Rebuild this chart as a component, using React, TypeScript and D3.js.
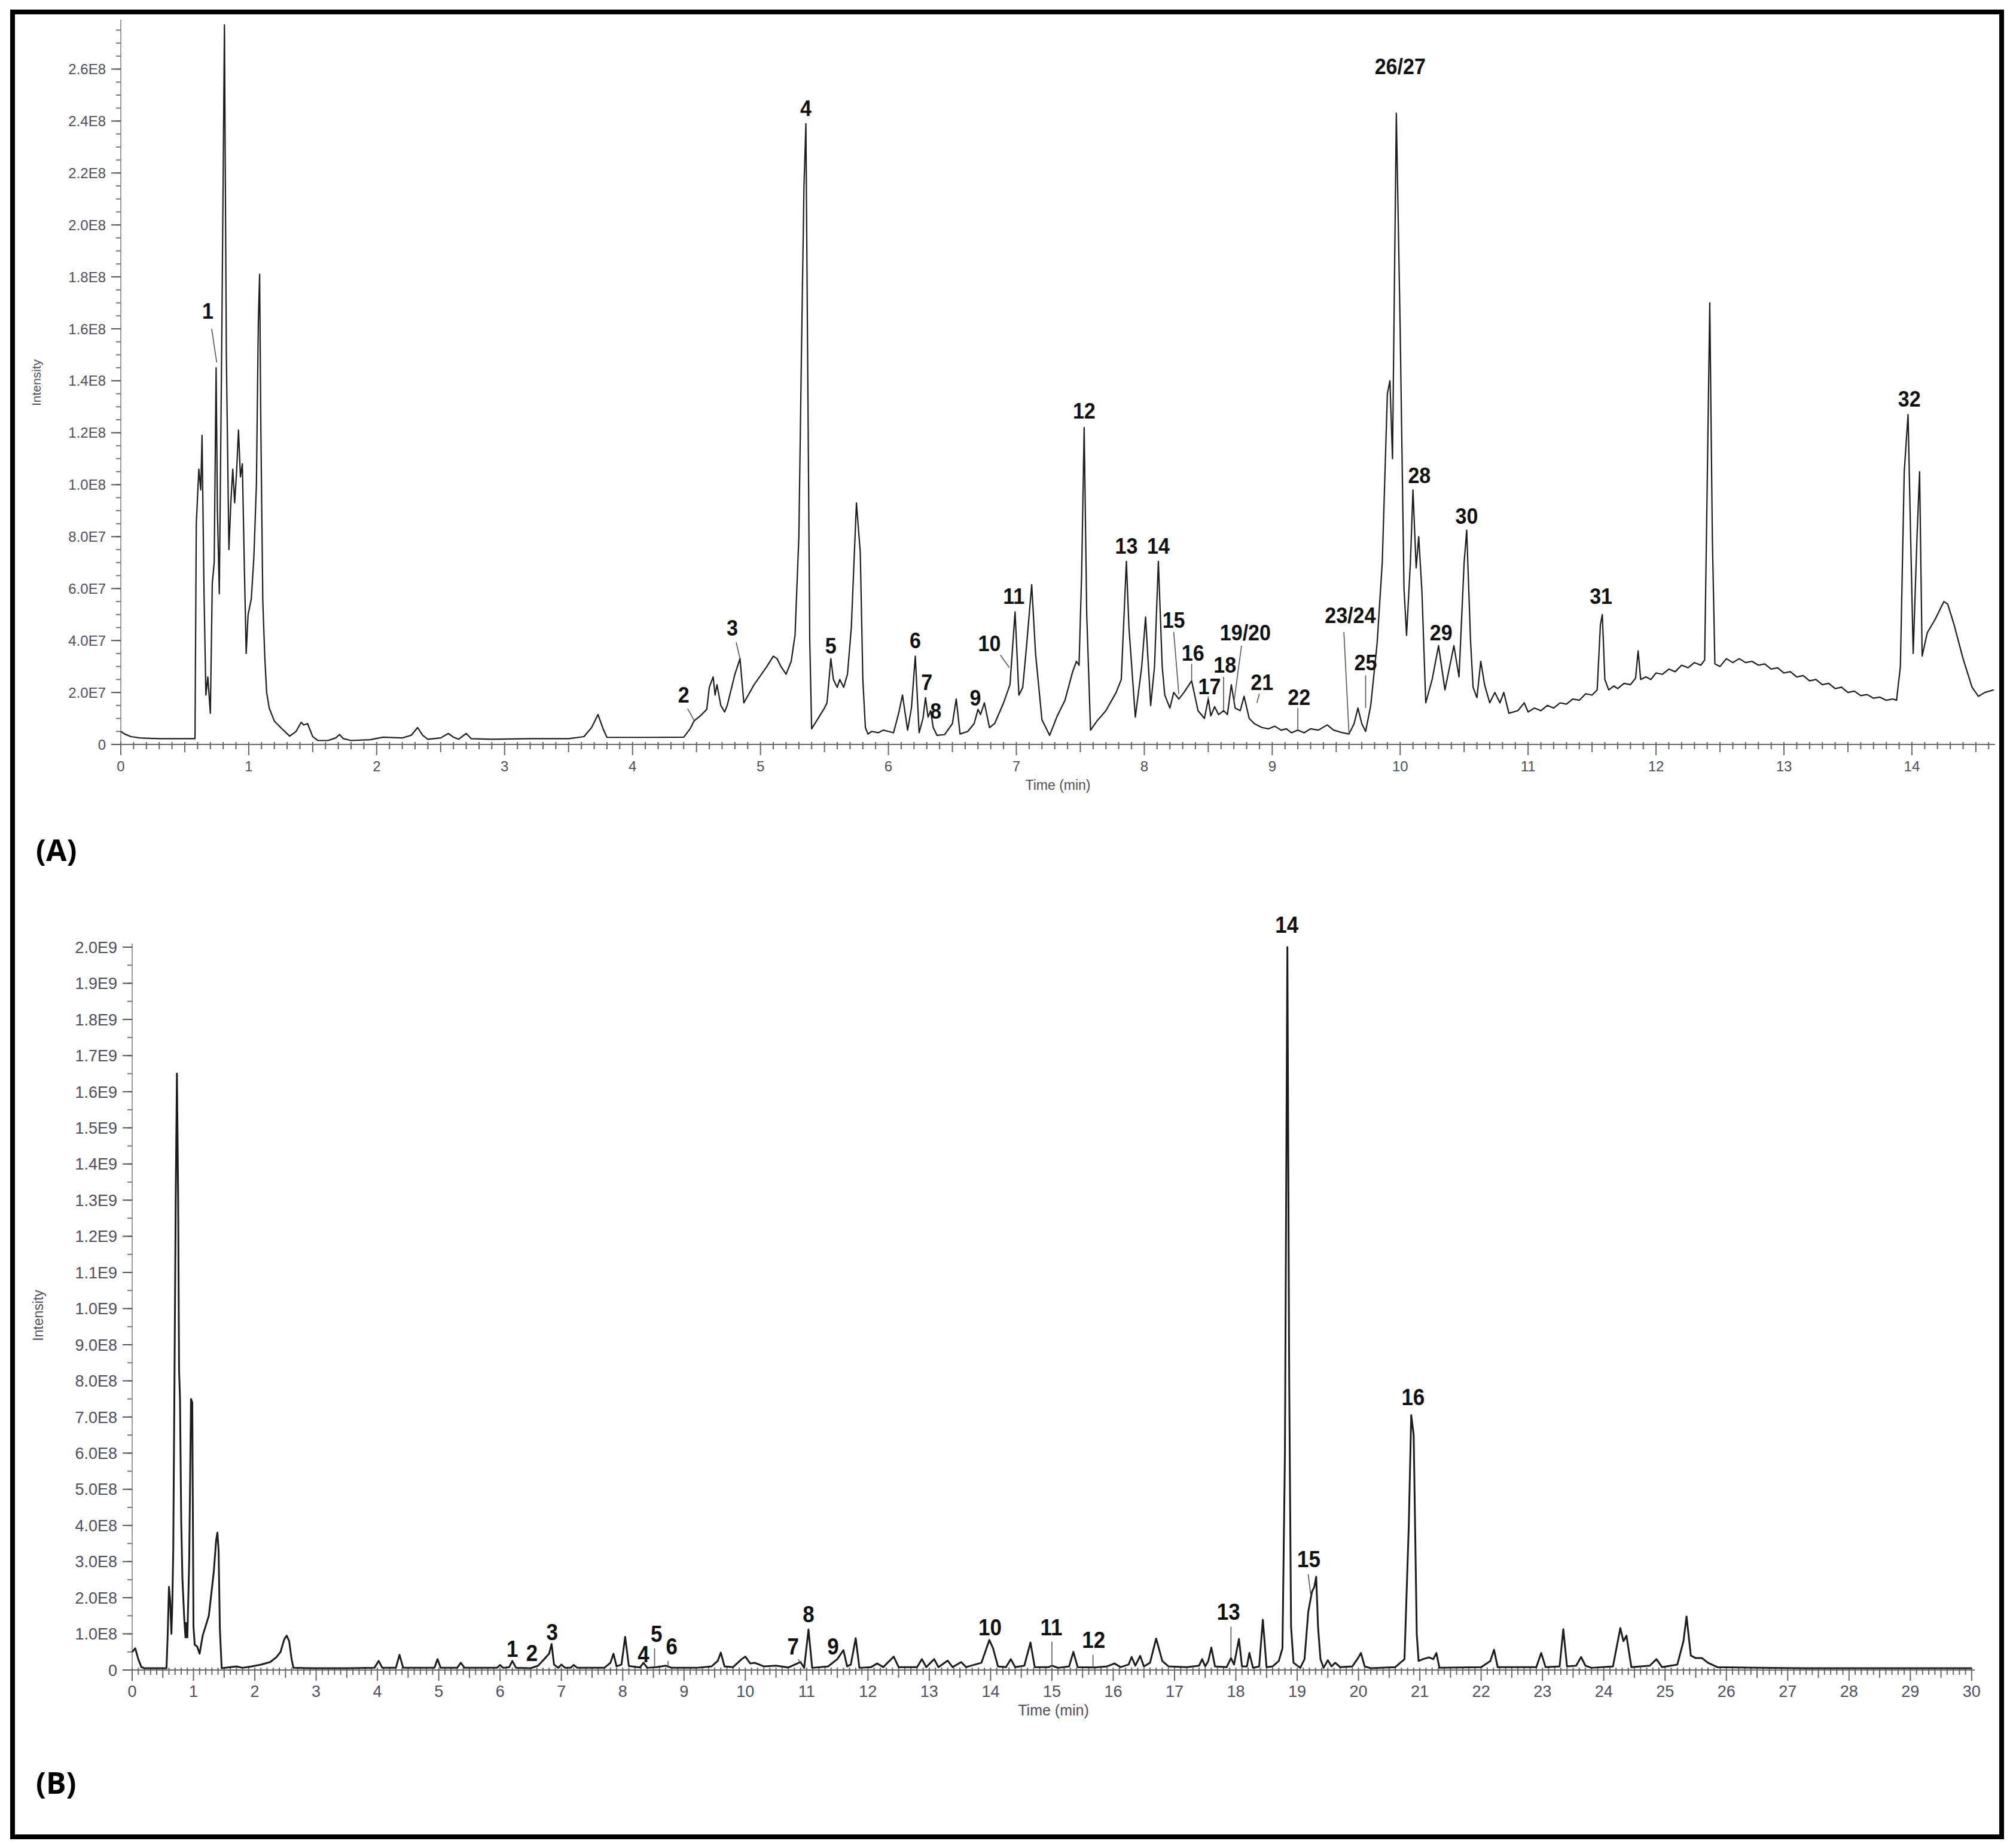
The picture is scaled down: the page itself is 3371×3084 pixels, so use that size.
import * as d3 from "d3";

// ---------- Panel A (time in min, intensity in units of 1E7) ----------
const chromA: [number, number][] = [
  [0, 0.5], [0.03, 0.4], [0.08, 0.3], [0.15, 0.25], [0.3, 0.22], [0.45, 0.22], [0.58, 0.22],
  [0.59, 8.5], [0.61, 10.6], [0.625, 9.8], [0.635, 11.9], [0.65, 6.0], [0.665, 1.9], [0.68, 2.6],
  [0.7, 1.2], [0.715, 6.2], [0.73, 7.0], [0.745, 14.5], [0.755, 9.0], [0.77, 5.8], [0.79, 16],
  [0.81, 27.7], [0.825, 15], [0.845, 7.5], [0.86, 9.3], [0.875, 10.6], [0.89, 9.3], [0.905, 10.5],
  [0.92, 12.1], [0.935, 10.3], [0.95, 10.8], [0.965, 7.0], [0.98, 3.5], [0.995, 5.0], [1.02, 5.6],
  [1.04, 7.2], [1.06, 10.0], [1.075, 16.3], [1.085, 18.1], [1.095, 12], [1.11, 5.5], [1.125, 3.4],
  [1.14, 2.0], [1.16, 1.4], [1.2, 0.9], [1.26, 0.6], [1.32, 0.32], [1.37, 0.5], [1.41, 0.85],
  [1.43, 0.75], [1.46, 0.8], [1.5, 0.3], [1.54, 0.15], [1.62, 0.15], [1.68, 0.25], [1.71, 0.38],
  [1.74, 0.22], [1.8, 0.15], [1.95, 0.18], [2.05, 0.28], [2.2, 0.25], [2.27, 0.35], [2.32, 0.65],
  [2.36, 0.35], [2.4, 0.2], [2.5, 0.25], [2.56, 0.42], [2.6, 0.28], [2.64, 0.2], [2.7, 0.42],
  [2.74, 0.22], [2.9, 0.2], [3.2, 0.22], [3.5, 0.22], [3.62, 0.3], [3.68, 0.65], [3.73, 1.15],
  [3.77, 0.6], [3.8, 0.27], [4.1, 0.27], [4.4, 0.28], [4.45, 0.6], [4.48, 0.9], [4.53, 1.1],
  [4.58, 1.35], [4.6, 2.2], [4.63, 2.6], [4.645, 1.9], [4.66, 2.3], [4.69, 1.5], [4.72, 1.25],
  [4.74, 1.5], [4.8, 2.7], [4.84, 3.3], [4.87, 1.6], [4.95, 2.3], [5.05, 3.0], [5.1, 3.4],
  [5.13, 3.3], [5.16, 3.0], [5.2, 2.7], [5.24, 3.2], [5.27, 4.2], [5.3, 8.0], [5.32, 15],
  [5.34, 21.5], [5.355, 23.9], [5.37, 14], [5.385, 4], [5.4, 0.6], [5.45, 1.0], [5.5, 1.4],
  [5.52, 1.6], [5.55, 3.3], [5.57, 2.5], [5.6, 2.2], [5.62, 2.5], [5.65, 2.2], [5.68, 2.7],
  [5.71, 4.5], [5.75, 9.3], [5.78, 7.4], [5.8, 2.5], [5.82, 0.65], [5.84, 0.4], [5.87, 0.5],
  [5.92, 0.45], [5.96, 0.55], [6.0, 0.5], [6.04, 0.45], [6.08, 1.2], [6.11, 1.9], [6.15, 0.55],
  [6.18, 1.4], [6.21, 3.4], [6.24, 0.45], [6.27, 1.0], [6.29, 1.8], [6.31, 1.05], [6.33, 1.3],
  [6.35, 0.65], [6.38, 0.35], [6.44, 0.38], [6.5, 0.8], [6.53, 1.75], [6.56, 0.4], [6.62, 0.5],
  [6.67, 0.8], [6.7, 1.35], [6.72, 1.15], [6.75, 1.6], [6.79, 0.65], [6.83, 0.8], [6.9, 1.6],
  [6.95, 2.3], [6.99, 5.1], [7.02, 1.9], [7.05, 2.2], [7.08, 3.8], [7.12, 6.15], [7.15, 3.5],
  [7.2, 0.95], [7.26, 0.35], [7.32, 1.1], [7.38, 1.7], [7.44, 2.8], [7.47, 3.2], [7.49, 3.05],
  [7.51, 6.5], [7.53, 12.2], [7.55, 5], [7.58, 0.55], [7.63, 0.9], [7.7, 1.3], [7.78, 2.0],
  [7.82, 2.5], [7.86, 7.05], [7.88, 4.5], [7.93, 1.05], [7.98, 3.0], [8.01, 4.9], [8.05, 1.5],
  [8.08, 3.0], [8.11, 7.05], [8.14, 3.0], [8.16, 1.9], [8.2, 1.4], [8.23, 2.0], [8.27, 1.75],
  [8.31, 2.0], [8.37, 2.45], [8.42, 1.3], [8.47, 1.0], [8.5, 1.75], [8.52, 1.1], [8.55, 1.45],
  [8.58, 1.15], [8.62, 1.3], [8.65, 1.15], [8.68, 2.3], [8.71, 1.4], [8.75, 1.3], [8.78, 1.85],
  [8.82, 1.0], [8.86, 0.8], [8.92, 0.65], [8.97, 0.6], [9.02, 0.7], [9.07, 0.55], [9.11, 0.6],
  [9.15, 0.45], [9.2, 0.55], [9.25, 0.45], [9.3, 0.6], [9.36, 0.55], [9.43, 0.75], [9.48, 0.55],
  [9.55, 0.45], [9.6, 0.4], [9.64, 0.8], [9.67, 1.4], [9.7, 0.8], [9.73, 0.5], [9.77, 1.5],
  [9.82, 3.9], [9.86, 7], [9.9, 13.5], [9.92, 14], [9.94, 11], [9.97, 24.3], [10.0, 16],
  [10.03, 6], [10.05, 4.2], [10.08, 7], [10.1, 9.8], [10.125, 6.8], [10.145, 8.0], [10.17, 5.9],
  [10.2, 1.6], [10.25, 2.5], [10.3, 3.8], [10.35, 2.1], [10.42, 3.8], [10.46, 2.6], [10.5, 7.0],
  [10.52, 8.25], [10.55, 4.0], [10.57, 2.2], [10.6, 1.8], [10.63, 3.2], [10.66, 2.3], [10.7, 1.6],
  [10.74, 2.0], [10.78, 1.6], [10.81, 2.0], [10.85, 1.2], [10.92, 1.3], [10.97, 1.6], [11.0, 1.25],
  [11.05, 1.4], [11.1, 1.3], [11.15, 1.5], [11.2, 1.4], [11.25, 1.6], [11.3, 1.55], [11.35, 1.75],
  [11.4, 1.7], [11.45, 1.95], [11.5, 1.9], [11.54, 2.1], [11.565, 4.6], [11.58, 5.0], [11.6, 2.5],
  [11.63, 2.1], [11.67, 2.25], [11.7, 2.15], [11.75, 2.35], [11.8, 2.3], [11.84, 2.55],
  [11.86, 3.6], [11.88, 2.5], [11.92, 2.6], [11.96, 2.5], [12.0, 2.75], [12.05, 2.7],
  [12.1, 2.9], [12.15, 2.8], [12.2, 3.05], [12.25, 2.95], [12.3, 3.15], [12.35, 3.05],
  [12.38, 3.25], [12.4, 10], [12.42, 17.0], [12.44, 8], [12.46, 3.1], [12.5, 3.0], [12.55, 3.3],
  [12.6, 3.15], [12.65, 3.3], [12.7, 3.15], [12.75, 3.2], [12.8, 3.05], [12.85, 3.1],
  [12.9, 2.9], [12.95, 2.95], [13.0, 2.75], [13.05, 2.8], [13.1, 2.6], [13.15, 2.65],
  [13.2, 2.45], [13.25, 2.5], [13.3, 2.3], [13.35, 2.35], [13.4, 2.15], [13.45, 2.2],
  [13.5, 2.0], [13.55, 2.05], [13.6, 1.88], [13.65, 1.92], [13.7, 1.78], [13.75, 1.82],
  [13.8, 1.7], [13.85, 1.75], [13.88, 1.7], [13.91, 3.0], [13.94, 10.5], [13.97, 12.7],
  [13.99, 8], [14.01, 3.5], [14.04, 8], [14.06, 10.5], [14.08, 3.4], [14.12, 4.3], [14.18, 4.8],
  [14.25, 5.5], [14.28, 5.4], [14.33, 4.6], [14.4, 3.3], [14.47, 2.2], [14.52, 1.85],
  [14.57, 2.0], [14.64, 2.1],
];

// peak label: text position (t, y = text baseline) and optional leader line
const peaksA: { id: string; t: number; y: number; lead?: [number, number, number, number] }[] = [
  { id: "1", t: 0.68, y: 16.4, lead: [0.71, 16.0, 0.75, 14.7] },
  { id: "2", t: 4.4, y: 1.6, lead: [4.43, 1.38, 4.48, 0.94] },
  { id: "3", t: 4.78, y: 4.2, lead: [4.81, 3.93, 4.84, 3.3] },
  { id: "4", t: 5.355, y: 24.2 },
  { id: "5", t: 5.55, y: 3.5 },
  { id: "6", t: 6.21, y: 3.7 },
  { id: "7", t: 6.3, y: 2.1 },
  { id: "8", t: 6.37, y: 1.0 },
  { id: "9", t: 6.68, y: 1.5 },
  { id: "10", t: 6.79, y: 3.6, lead: [6.875, 3.44, 6.945, 2.96] },
  { id: "11", t: 6.98, y: 5.42 },
  { id: "12", t: 7.53, y: 12.55 },
  { id: "13", t: 7.86, y: 7.35 },
  { id: "14", t: 8.11, y: 7.35 },
  { id: "15", t: 8.23, y: 4.5, lead: [8.23, 4.33, 8.27, 1.94] },
  { id: "16", t: 8.38, y: 3.23, lead: [8.37, 3.1, 8.37, 2.45] },
  { id: "17", t: 8.51, y: 1.94, lead: [8.5, 1.85, 8.5, 1.75] },
  { id: "18", t: 8.63, y: 2.76, lead: [8.62, 2.6, 8.62, 1.3] },
  { id: "19/20", t: 8.79, y: 4.0, lead: [8.76, 3.8, 8.7, 1.6] },
  { id: "21", t: 8.92, y: 2.1, lead: [8.9, 1.95, 8.88, 1.6] },
  { id: "22", t: 9.21, y: 1.52, lead: [9.2, 1.4, 9.2, 0.56] },
  { id: "23/24", t: 9.61, y: 4.68, lead: [9.56, 4.33, 9.6, 0.42] },
  { id: "25", t: 9.73, y: 2.86, lead: [9.73, 2.66, 9.73, 1.4] },
  { id: "26/27", t: 10.0, y: 25.8 },
  { id: "28", t: 10.15, y: 10.05 },
  { id: "29", t: 10.32, y: 4.0 },
  { id: "30", t: 10.52, y: 8.5 },
  { id: "31", t: 11.57, y: 5.4 },
  { id: "32", t: 13.98, y: 13.0 },
];

const yTickValsA = [0, 2, 4, 6, 8, 10, 12, 14, 16, 18, 20, 22, 24, 26];
const yTickLabelsA = ["0", "2.0E7", "4.0E7", "6.0E7", "8.0E7", "1.0E8", "1.2E8", "1.4E8",
  "1.6E8", "1.8E8", "2.0E8", "2.2E8", "2.4E8", "2.6E8"];
const xTickValsA = d3.range(0, 15);

// ---------- Panel B (time in min, intensity in units of 1E8) ----------
const chromB: [number, number][] = [
  [0, 0.5], [0.05, 0.6], [0.1, 0.3], [0.15, 0.08], [0.2, 0.05], [0.4, 0.05], [0.56, 0.05],
  [0.58, 1.0], [0.6, 2.3], [0.62, 1.9], [0.64, 1.0], [0.655, 1.85], [0.67, 3.3], [0.69, 8],
  [0.71, 13], [0.73, 16.5], [0.75, 13], [0.765, 8.3], [0.78, 7.5], [0.8, 4.1], [0.82, 2.5],
  [0.85, 1.4], [0.87, 0.9], [0.88, 1.3], [0.9, 0.9], [0.93, 3], [0.96, 7.5], [0.98, 7.4],
  [1.0, 1.2], [1.02, 0.7], [1.06, 0.65], [1.1, 0.45], [1.15, 0.95], [1.25, 1.5], [1.33, 2.7],
  [1.37, 3.6], [1.39, 3.8], [1.41, 3.3], [1.43, 1.15], [1.46, 0.05], [1.6, 0.08], [1.7, 0.1],
  [1.8, 0.06], [1.95, 0.1], [2.1, 0.15], [2.25, 0.22], [2.35, 0.35], [2.42, 0.5], [2.48, 0.85],
  [2.52, 0.95], [2.56, 0.8], [2.6, 0.3], [2.63, 0.06], [3.0, 0.05], [3.5, 0.05], [3.95, 0.06],
  [4.02, 0.25], [4.08, 0.06], [4.3, 0.06], [4.36, 0.42], [4.42, 0.06], [4.93, 0.06], [4.98, 0.3],
  [5.03, 0.06], [5.3, 0.06], [5.36, 0.2], [5.42, 0.06], [5.95, 0.06], [6.0, 0.14], [6.05, 0.06],
  [6.15, 0.08], [6.2, 0.25], [6.26, 0.06], [6.5, 0.05], [6.62, 0.12], [6.72, 0.3], [6.8, 0.45],
  [6.84, 0.72], [6.88, 0.15], [6.95, 0.06], [7.0, 0.15], [7.06, 0.06], [7.15, 0.06], [7.2, 0.14],
  [7.26, 0.06], [7.7, 0.06], [7.8, 0.2], [7.85, 0.45], [7.9, 0.1], [7.98, 0.15], [8.04, 0.92],
  [8.1, 0.11], [8.28, 0.07], [8.34, 0.2], [8.4, 0.06], [8.55, 0.08], [8.7, 0.12], [8.8, 0.06],
  [9.2, 0.06], [9.45, 0.1], [9.55, 0.25], [9.6, 0.48], [9.66, 0.1], [9.8, 0.08], [9.94, 0.3],
  [10.0, 0.37], [10.08, 0.18], [10.15, 0.2], [10.3, 0.1], [10.5, 0.12], [10.7, 0.07], [10.9, 0.22],
  [10.96, 0.06], [11.03, 1.12], [11.09, 0.06], [11.35, 0.1], [11.5, 0.3], [11.6, 0.55],
  [11.66, 0.1], [11.72, 0.15], [11.8, 0.88], [11.86, 0.06], [12.05, 0.08], [12.15, 0.18],
  [12.25, 0.08], [12.42, 0.37], [12.5, 0.08], [12.8, 0.08], [12.88, 0.3], [12.95, 0.08],
  [13.08, 0.3], [13.15, 0.08], [13.3, 0.26], [13.38, 0.08], [13.52, 0.22], [13.6, 0.08],
  [13.85, 0.2], [13.98, 0.83], [14.04, 0.6], [14.12, 0.1], [14.25, 0.08], [14.33, 0.3],
  [14.4, 0.08], [14.55, 0.12], [14.65, 0.76], [14.72, 0.08], [14.95, 0.08], [15.0, 0.12],
  [15.1, 0.06], [15.28, 0.1], [15.35, 0.5], [15.42, 0.08], [15.7, 0.07], [15.9, 0.1],
  [16.02, 0.18], [16.12, 0.08], [16.25, 0.15], [16.3, 0.36], [16.36, 0.12], [16.44, 0.39],
  [16.5, 0.1], [16.6, 0.2], [16.7, 0.87], [16.8, 0.25], [16.9, 0.1], [17.2, 0.08], [17.4, 0.12],
  [17.45, 0.3], [17.5, 0.1], [17.55, 0.25], [17.6, 0.62], [17.66, 0.1], [17.85, 0.08],
  [17.92, 0.33], [17.97, 0.15], [18.05, 0.86], [18.1, 0.1], [18.18, 0.1], [18.22, 0.47],
  [18.28, 0.06], [18.38, 0.1], [18.44, 1.39], [18.5, 0.08], [18.6, 0.1], [18.7, 0.25],
  [18.76, 0.6], [18.8, 6], [18.84, 20.0], [18.87, 8], [18.9, 1.2], [18.94, 0.2], [19.05, 0.06],
  [19.12, 0.3], [19.18, 1.6], [19.24, 2.16], [19.28, 2.3], [19.31, 2.58], [19.34, 1.2],
  [19.38, 0.3], [19.43, 0.06], [19.5, 0.27], [19.56, 0.1], [19.62, 0.2], [19.7, 0.08],
  [19.9, 0.1], [20.0, 0.35], [20.04, 0.47], [20.1, 0.1], [20.2, 0.05], [20.6, 0.08],
  [20.75, 0.3], [20.82, 4], [20.86, 7.05], [20.9, 6.5], [20.95, 1.0], [20.98, 0.25],
  [21.05, 0.3], [21.15, 0.35], [21.22, 0.3], [21.27, 0.47], [21.32, 0.06], [22.0, 0.08],
  [22.15, 0.25], [22.21, 0.56], [22.27, 0.08], [22.9, 0.08], [22.98, 0.47], [23.05, 0.08],
  [23.28, 0.1], [23.34, 1.13], [23.4, 0.1], [23.55, 0.12], [23.63, 0.36], [23.7, 0.12],
  [23.8, 0.06], [24.15, 0.1], [24.27, 1.16], [24.32, 0.8], [24.37, 0.95], [24.45, 0.08],
  [24.75, 0.12], [24.86, 0.3], [24.95, 0.08], [25.2, 0.15], [25.3, 0.8], [25.35, 1.48],
  [25.42, 0.4], [25.5, 0.33], [25.6, 0.33], [25.7, 0.2], [25.85, 0.08], [26.5, 0.06],
  [27.3, 0.05], [30.0, 0.05],
];

const peaksB: { id: string; t: number; y: number; lead?: [number, number, number, number] }[] = [
  { id: "1", t: 6.2, y: 0.36 },
  { id: "2", t: 6.52, y: 0.25 },
  { id: "3", t: 6.85, y: 0.83 },
  { id: "4", t: 8.34, y: 0.22 },
  { id: "5", t: 8.55, y: 0.78, lead: [8.52, 0.6, 8.52, 0.08] },
  { id: "6", t: 8.8, y: 0.43, lead: [8.74, 0.25, 8.74, 0.1] },
  { id: "7", t: 10.78, y: 0.43, lead: [10.86, 0.3, 10.9, 0.2] },
  { id: "8", t: 11.03, y: 1.32 },
  { id: "9", t: 11.43, y: 0.43 },
  { id: "10", t: 13.99, y: 0.96 },
  { id: "11", t: 14.99, y: 0.96, lead: [15.0, 0.78, 15.0, 0.1] },
  { id: "12", t: 15.68, y: 0.61, lead: [15.67, 0.42, 15.67, 0.07] },
  { id: "13", t: 17.88, y: 1.39, lead: [17.92, 1.2, 17.92, 0.33] },
  { id: "14", t: 18.83, y: 20.4 },
  { id: "15", t: 19.19, y: 2.84, lead: [19.18, 2.65, 19.22, 2.1] },
  { id: "16", t: 20.89, y: 7.33 },
];

const yTickValsB = d3.range(0, 21);
const yTickLabelsB = ["0", "1.0E8", "2.0E8", "3.0E8", "4.0E8", "5.0E8", "6.0E8", "7.0E8",
  "8.0E8", "9.0E8", "1.0E9", "1.1E9", "1.2E9", "1.3E9", "1.4E9", "1.5E9", "1.6E9", "1.7E9",
  "1.8E9", "1.9E9", "2.0E9"];
const xTickValsB = d3.range(0, 31);

const TICK_FONT = "'Liberation Sans', Arial, sans-serif";
const TICK_COLOR = "#4e4e5e";

type PanelProps = {
  data: [number, number][];
  peaks: { id: string; t: number; y: number; lead?: [number, number, number, number] }[];
  xMax: number;
  yMax: number;
  left: number;
  right: number;
  top: number;
  bottom: number;
  yTickVals: number[];
  yTickLabels: string[];
  xTickVals: number[];
  yMinorStep: number;
  tickSize: number;
  labelSize: number;
  peakSize: number;
  lineWidth: number;
  yLabelX: number;
  yLabelY: number;
  panelTag: string;
  tagY: number;
};

function Panel(p: PanelProps) {
  const x = d3.scaleLinear().domain([0, p.xMax]).range([p.left, p.right]);
  const y = d3.scaleLinear().domain([0, p.yMax]).range([p.bottom, p.top]);
  const line = d3
    .line<[number, number]>()
    .x((d) => x(d[0]))
    .y((d) => y(d[1]));

  const yMinor = d3.range(0, p.yMax, p.yMinorStep);
  const xMinor = d3.range(0, Math.floor(p.xMax * 10) + 1).map((i) => i / 10);

  return (
    <g>
      {/* y axis */}
      <line x1={p.left} x2={p.left} y1={p.top} y2={p.bottom} stroke="#9a9aa2" strokeWidth={2} />
      {yMinor.map((v) => (
        <line key={"ym" + v} x1={p.left - 8} x2={p.left} y1={y(v)} y2={y(v)} stroke="#777" strokeWidth={2} />
      ))}
      {p.yTickVals.map((v, i) => (
        <g key={"yt" + v}>
          <line x1={p.left - 16} x2={p.left} y1={y(v)} y2={y(v)} stroke="#555" strokeWidth={2} />
          <text
            x={p.left - 25}
            y={y(v)}
            dy="0.36em"
            textAnchor="end"
            fontFamily={TICK_FONT}
            fontSize={p.tickSize}
            fill={TICK_COLOR}
          >
            {p.yTickLabels[i]}
          </text>
        </g>
      ))}
      <text
        transform={`translate(${p.yLabelX},${p.yLabelY}) rotate(-90)`}
        textAnchor="middle"
        fontFamily={TICK_FONT}
        fontSize={p.labelSize - 2}
        fill={TICK_COLOR}
      >
        Intensity
      </text>

      {/* x axis */}
      <line x1={p.left} x2={p.right} y1={p.bottom} y2={p.bottom} stroke="#6a6a72" strokeWidth={2} />
      {xMinor.map((v) => {
        const k = Math.round(v * 10);
        const len = k % 10 === 0 ? 18 : k % 5 === 0 ? 13 : 8;
        return (
          <line key={"xm" + k} x1={x(v)} x2={x(v)} y1={p.bottom - 4} y2={p.bottom + len} stroke="#666" strokeWidth={2} />
        );
      })}
      {p.xTickVals.map((v) => (
        <text
          key={"xt" + v}
          x={x(v)}
          y={p.bottom + 45}
          textAnchor="middle"
          fontFamily={TICK_FONT}
          fontSize={p.tickSize}
          fill={TICK_COLOR}
        >
          {v}
        </text>
      ))}
      <text
        x={(p.left + p.right) / 2}
        y={p.bottom + 76}
        textAnchor="middle"
        fontFamily={TICK_FONT}
        fontSize={p.labelSize}
        fill={TICK_COLOR}
      >
        Time (min)
      </text>

      {/* chromatogram */}
      <path d={line(p.data) ?? ""} fill="none" stroke="#1c1c1c" strokeWidth={p.lineWidth} strokeLinejoin="round" />

      {/* peak leaders and labels */}
      {p.peaks.map((pk) =>
        pk.lead ? (
          <line
            key={"ld" + pk.id}
            x1={x(pk.lead[0])}
            y1={y(pk.lead[1])}
            x2={x(pk.lead[2])}
            y2={y(pk.lead[3])}
            stroke="#555"
            strokeWidth={1.6}
          />
        ) : null
      )}
      {p.peaks.map((pk) => (
        <g key={"pk" + pk.id} transform={`translate(${x(pk.t)},${y(pk.y)}) scale(0.92,1)`}>
          <text
            textAnchor="middle"
            fontFamily="'Liberation Sans', Arial, sans-serif"
            fontWeight="bold"
            fontSize={p.peakSize}
            fill="#111"
          >
            {pk.id}
          </text>
        </g>
      ))}

      <text
        x={60}
        y={p.tagY}
        fontFamily="'Open Sans', 'Liberation Sans', Arial, sans-serif"
        fontWeight="bold"
        fontSize={50}
        fill="#000"
      >
        {p.panelTag}
      </text>
    </g>
  );
}

export default function App() {
  return (
    <svg
      width={3371}
      height={3084}
      viewBox="0 0 3371 3084"
      style={{ position: "absolute", left: 0, top: 0, background: "#fff" }}
    >
      <rect x={0} y={0} width={3371} height={3084} fill="#fff" />
      <rect x={21} y={20} width={3326} height={3052} fill="none" stroke="#000" strokeWidth={8} />
      <Panel
        data={chromA}
        peaks={peaksA}
        xMax={14.65}
        yMax={27.9}
        left={202}
        right={3336}
        top={33}
        bottom={1245}
        yTickVals={yTickValsA}
        yTickLabels={yTickLabelsA}
        xTickVals={xTickValsA}
        yMinorStep={0.5}
        tickSize={24}
        labelSize={23}
        peakSize={37}
        lineWidth={2.2}
        yLabelX={68}
        yLabelY={640}
        panelTag="(A)"
        tagY={1440}
      />
      <Panel
        data={chromB}
        peaks={peaksB}
        xMax={30.05}
        yMax={20.1}
        left={221}
        right={3302}
        top={1578}
        bottom={2793}
        yTickVals={yTickValsB}
        yTickLabels={yTickLabelsB}
        xTickVals={xTickValsB}
        yMinorStep={0.5}
        tickSize={27}
        labelSize={25}
        peakSize={38}
        lineWidth={3}
        yLabelX={72}
        yLabelY={2200}
        panelTag="(B)"
        tagY={3000}
      />
    </svg>
  );
}
